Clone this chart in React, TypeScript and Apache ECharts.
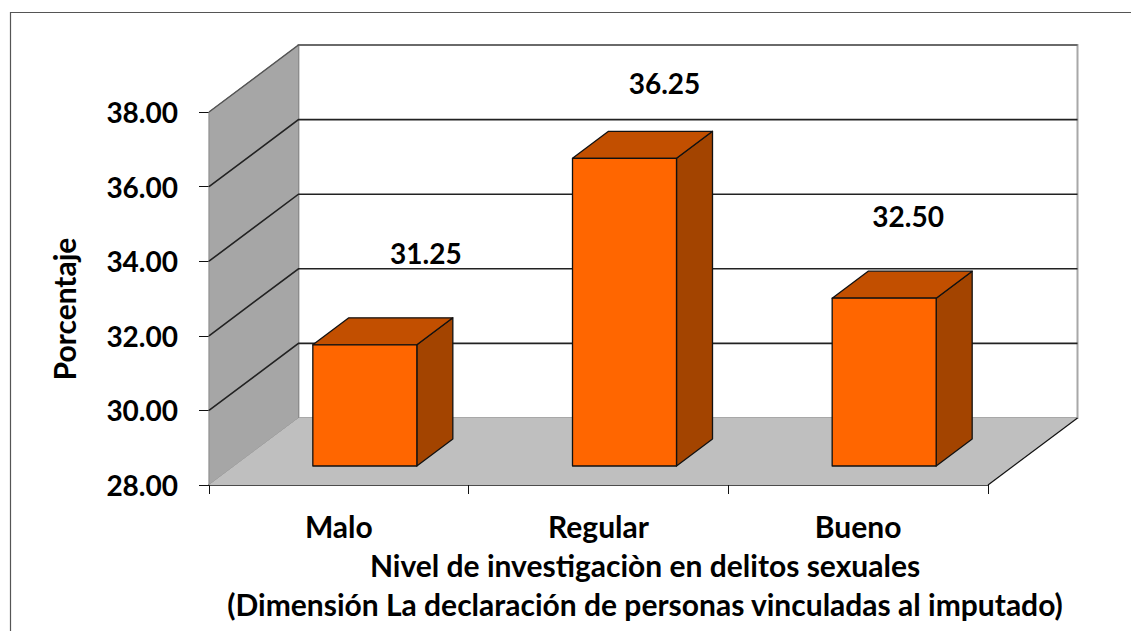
import React, { useEffect, useRef } from "react";
import * as echarts from "echarts";

const categories = ["Malo", "Regular", "Bueno"];
const values = [31.25, 36.25, 32.5];
const valueLabels = ["31.25", "36.25", "32.50"];
const yTicks = [28, 30, 32, 34, 36, 38];
const xTitle = "Nivel de investigaciòn en delitos sexuales";
const xSubtitle = "(Dimensión La declaración de personas vinculadas al imputado)";
const yTitle = "Porcentaje";

const FONT = "Lato, Carlito, 'Open Sans', sans-serif";
const DX = 89.5;
const DY = -67;
const BAR_W = 104;
const BX = 26;
const BY = -19;
const DEPTH_X = 36;
const DEPTH_Y = -27;
const labelOffset = [
  [61, -92],
  [40, -75],
  [24, -82],
];

const App = () => {
  const ref = useRef<HTMLDivElement>(null);
  useEffect(() => {
    document.body.style.margin = "0";
    const chart = echarts.init(ref.current!, undefined, { renderer: "svg" });
    const renderBackdrop = (_: any, api: any) => {
      const o = api.coord([0, 28]);
      const x0 = 209;
      const x1 = 988;
      const top = api.coord([0, 38])[1];
      const y0 = o[1];
      const children: any[] = [
        {
          type: "polygon",
          shape: { points: [[x0 + DX, top + DY], [x1 + DX, top + DY], [x1 + DX, y0 + DY], [x0 + DX, y0 + DY]] },
          style: { fill: "#ffffff", stroke: "#a8a8a8", lineWidth: 2 },
        },
        {
          type: "polygon",
          shape: { points: [[x0, top], [x0 + DX, top + DY], [x0 + DX, y0 + DY], [x0, y0]] },
          style: { fill: "#a6a6a6", stroke: "#8c8c8c", lineWidth: 1 },
        },
        {
          type: "polygon",
          shape: { points: [[x0, y0], [x1, y0], [x1 + DX, y0 + DY], [x0 + DX, y0 + DY]] },
          style: { fill: "#bfbfbf" },
        },
        {
          type: "line",
          shape: { x1, y1: y0, x2: x1 + DX, y2: y0 + DY },
          style: { stroke: "#111111", lineWidth: 1.2 },
        },
      ];
      yTicks.slice(1).forEach((t) => {
        const y = api.coord([0, t])[1];
        const dark = t === 38 ? "#555555" : "#222222";
        children.push({
          type: "polyline",
          shape: { points: [[x0, y], [x0 + DX, y + DY], [x1 + DX, y + DY]] },
          style: { fill: "none", stroke: dark, lineWidth: t === 38 ? 1.5 : 1.6 },
        });
      });
      return { type: "group", children };
    };
    const renderBar = (_: any, api: any) => {
      const idx = api.value(0);
      const v = api.value(1);
      const c = api.coord([idx, v]);
      const b = api.coord([idx, 28]);
      const l = c[0] + BX - BAR_W / 2;
      const r = l + BAR_W;
      const t = c[1] + BY;
      const bt = b[1] + BY;
      const line = { stroke: "#111111", lineWidth: 1.3, lineJoin: "round" };
      return {
        type: "group",
        children: [
          {
            type: "polygon",
            shape: { points: [[r, t], [r + DEPTH_X, t + DEPTH_Y], [r + DEPTH_X, bt + DEPTH_Y], [r, bt]] },
            style: { fill: "#a34400", ...line },
          },
          {
            type: "polygon",
            shape: { points: [[l, t], [l + DEPTH_X, t + DEPTH_Y], [r + DEPTH_X, t + DEPTH_Y], [r, t]] },
            style: { fill: "#c24f00", ...line },
          },
          {
            type: "rect",
            shape: { x: l, y: t, width: BAR_W, height: bt - t },
            style: { fill: "#ff6600", ...line },
          },
          {
            type: "text",
            style: {
              text: valueLabels[idx],
              x: l + BAR_W / 2 + labelOffset[idx][0],
              y: t + labelOffset[idx][1],
              align: "center",
              verticalAlign: "middle",
              font: `bold 28px ${FONT}`,
              fill: "#000000",
            },
          },
        ],
      };
    };
    const text = (t: string, x: number, y: number, extra: any = {}) => ({
      type: "text",
      x,
      y,
      ...extra,
      style: {
        text: t,
        align: "center",
        verticalAlign: "middle",
        font: `bold 30px ${FONT}`,
        fill: "#000000",
      },
    });
    chart.setOption({
      animation: false,
      backgroundColor: "#ffffff",
      grid: { left: 209, right: 143, top: 112, bottom: 146, containLabel: false },
      xAxis: {
        type: "category",
        data: categories,
        boundaryGap: true,
        axisLine: { lineStyle: { color: "#111111", width: 1.5 } },
        axisTick: { show: true, length: 9, lineStyle: { color: "#111111", width: 1 } },
        axisLabel: { margin: 26, color: "#000000", fontFamily: FONT, fontWeight: "bold", fontSize: 30 },
      },
      yAxis: {
        type: "value",
        min: 28,
        max: 38,
        interval: 2,
        axisLine: { show: true, lineStyle: { color: "#111111", width: 1.2 } },
        axisTick: { show: true, length: 10, lineStyle: { color: "#111111", width: 1 } },
        splitLine: { show: false },
        axisLabel: {
          margin: 31,
          color: "#000000",
          fontFamily: FONT,
          fontWeight: "bold",
          fontSize: 28,
          padding: [7, 0, 0, 0],
          formatter: (v: number) => v.toFixed(2),
        },
      },
      series: [
        { type: "custom", renderItem: renderBackdrop, data: [[0, 28]], z: 1, silent: true },
        { type: "custom", renderItem: renderBar, data: values.map((v, i) => [i, v]), z: 2, clip: false, silent: true },
      ],
      graphic: [
        {
          type: "polyline",
          shape: { points: [[1131, 12.5], [10.5, 12.5], [10.5, 631]] },
          style: { fill: "none", stroke: "#555555", lineWidth: 1.2 },
        },
        text(xTitle, 645, 565),
        text(xSubtitle, 645, 604),
        text(yTitle, 64, 309, { rotation: Math.PI / 2 }),
      ],
    });
    return () => chart.dispose();
  }, []);
  return <div ref={ref} style={{ width: 1131, height: 631 }} />;
};

export default App;
